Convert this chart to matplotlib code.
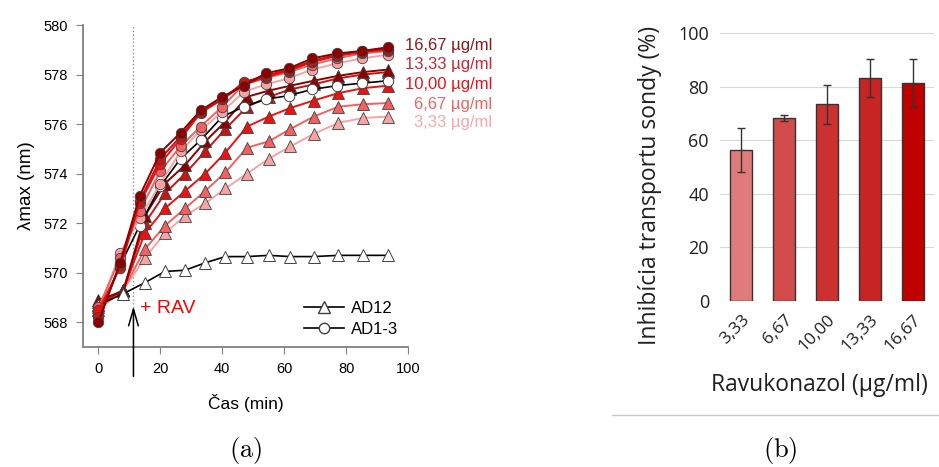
import matplotlib
matplotlib.use("Agg")
import matplotlib.pyplot as plt
from matplotlib.lines import Line2D

plt.rcParams['mathtext.fontset'] = 'cm'

# ---------------- data: panel (a) ----------------
t_circ = [0, 7, 13.3, 20, 26.5, 33, 40, 47, 54, 61.5, 69, 77, 85, 93.5]
t_tri = [0, 8, 15, 21.5, 28, 34.5, 41, 48, 55, 62, 69.5, 77.5, 85.5, 93.5]

conc_labels = ["16,67 µg/ml", "13,33 µg/ml", "10,00 µg/ml", "6,67 µg/ml", "3,33 µg/ml"]
conc_colors = ["#8b0000", "#c81414", "#ee1111", "#f26060", "#f7a3a3"]
label_colors = ["#8b1a1a", "#c8283a", "#e8141c", "#f06464", "#f7a8a8"]

circ_16 = [568.0, 570.4, 573.1, 574.85, 575.65, 576.55, 577.1, 577.55, 578.05, 578.25, 578.65, 578.85, 578.95, 579.1]
circ_13 = [568.2, 570.3, 572.9, 574.6, 575.5, 576.5, 577.0, 577.7, 577.95, 578.2, 578.55, 578.8, 578.95, 579.05]
circ_10 = [568.5, 570.2, 572.8, 574.4, 575.4, 576.45, 577.0, 577.6, 577.9, 578.15, 578.5, 578.75, 578.9, 579.0]
circ_6 = [568.6, 570.6, 572.5, 574.1, 575.1, 575.9, 576.7, 577.6, 577.85, 578.1, 578.4, 578.65, 578.85, 578.95]
circ_3 = [568.4, 570.8, 572.2, 573.6, 574.9, 575.75, 576.5, 577.3, 577.6, 577.85, 578.2, 578.45, 578.65, 578.8]
ctrl_ad13 = [568.3, 570.3, 571.9, 573.5, 574.6, 575.35, 576.3, 576.7, 577.0, 577.15, 577.4, 577.55, 577.65, 577.75]

tri_16 = [568.9, 569.25, 572.3, 573.6, 574.35, 575.3, 576.1, 577.1, 577.35, 577.55, 577.75, 577.95, 578.1, 578.2]
tri_13 = [568.7, 569.3, 572.0, 573.2, 574.0, 574.9, 575.8, 576.7, 577.1, 577.4, 577.6, 577.85, 578.0, 578.1]
tri_10 = [568.8, 569.3, 571.6, 572.6, 573.3, 574.0, 574.85, 575.9, 576.3, 576.65, 576.95, 577.25, 577.45, 577.55]
tri_6 = [568.6, 569.3, 570.95, 571.9, 572.6, 573.3, 574.05, 575.05, 575.3, 575.8, 576.3, 576.7, 576.8, 576.85]
tri_3 = [568.5, 569.3, 570.6, 571.6, 572.3, 572.8, 573.4, 574.0, 574.6, 575.1, 575.6, 576.05, 576.25, 576.3]
ctrl_ad12 = [568.7, 569.15, 569.6, 570.05, 570.1, 570.4, 570.65, 570.65, 570.7, 570.65, 570.65, 570.7, 570.7, 570.7]

circ_series = [circ_16, circ_13, circ_10, circ_6, circ_3]
tri_series = [tri_16, tri_13, tri_10, tri_6, tri_3]
rav_time = 11.3

# ---------------- data: panel (b) ----------------
bar_cats = ["3,33", "6,67", "10,00", "13,33", "16,67"]
bar_vals = [56.3, 68.3, 73.4, 83.3, 81.4]
bar_errs = [8.2, 1.0, 7.3, 7.1, 9.0]
bar_colors = ["#e07b7b", "#d24b4b", "#cd3030", "#c92424", "#c00000"]

W, H = 939, 467
fig = plt.figure(figsize=(W / 100, H / 100), dpi=100)

# ---------------- panel (a) ----------------
axa = fig.add_axes([83 / W, 1 - 347 / H, (408 - 83) / W, (347 - 25) / H])
sans = "Liberation Sans"

for i in range(4, -1, -1):
    axa.plot(t_tri, tri_series[i], '-', color=conc_colors[i], lw=1.4, marker='^', ms=8,
             mfc=conc_colors[i], mec='#404040', mew=0.6, zorder=3 + (4 - i) * 0.1)
axa.plot(t_tri, ctrl_ad12, '-', color='black', lw=1.2, marker='^', ms=8,
         mfc='white', mec='#404040', mew=0.7, zorder=3.6)
axa.plot(t_circ, ctrl_ad13, '-', color='black', lw=1.2, marker='o', ms=7.5,
         mfc='white', mec='#404040', mew=0.7, zorder=3.7)
for i in range(4, -1, -1):
    axa.plot(t_circ, circ_series[i], '-', color=conc_colors[i], lw=1.4, marker='o', ms=7.5,
             mfc=conc_colors[i], mec='#404040', mew=0.6, zorder=4 + (4 - i) * 0.1)

axa.axvline(rav_time, ymin=0.1, ymax=1.0, color='#909090', ls=':', lw=1, zorder=1)
axa.annotate("", xy=(rav_time, 568.75), xytext=(rav_time, 565.7),
             arrowprops=dict(arrowstyle='->,head_length=1.2,head_width=0.35', color='black', lw=1.1),
             annotation_clip=False)
axa.text(13.3, 568.55, "+ RAV", color='#ff0000', fontsize=14, family=sans, va='center', ha='left')

axa.set_xlim(-5, 100)
axa.set_ylim(567, 580)
axa.set_xticks([0, 20, 40, 60, 80, 100])
axa.set_yticks([568, 570, 572, 574, 576, 578, 580])
for s in ['top', 'right']:
    axa.spines[s].set_visible(False)
for s in ['left', 'bottom']:
    axa.spines[s].set_color('#808080')
    axa.spines[s].set_linewidth(1.3)
axa.tick_params(direction='out', length=5, color='#808080', labelsize=10.5, pad=6)
for lab in axa.get_xticklabels() + axa.get_yticklabels():
    lab.set_family(sans)
axa.set_xlabel("Čas (min)", family=sans, fontsize=12.5, labelpad=13)
axa.set_ylabel("λmax (nm)", family=sans, fontsize=13.5, labelpad=6)

leg_handles = [Line2D([], [], color='black', lw=1.2, marker='^', ms=8, mfc='white', mec='#404040'),
               Line2D([], [], color='black', lw=1.2, marker='o', ms=7.5, mfc='white', mec='#404040')]
axa.legend(leg_handles, ["AD12", "AD1-3"], loc='lower right', bbox_to_anchor=(1.0, 0.0),
           frameon=False, prop={'family': sans, 'size': 12}, handlelength=2.4,
           handletextpad=0.4, labelspacing=0.35, borderaxespad=0.2)

lab_x = [405, 405, 405, 414, 414]
lab_y = [45, 65, 85, 104, 123]
for i in range(5):
    fig.text(lab_x[i] / W, 1 - lab_y[i] / H, conc_labels[i], color=label_colors[i],
             family=sans, fontsize=12, va='center', ha='left')

# ---------------- panel (b) ----------------
axb = fig.add_axes([720 / W, 1 - 300.7 / H, (934 - 720) / W, (300.7 - 33.3) / H])
cal = "Open Sans"
xpos = list(range(len(bar_cats)))
axb.bar(xpos, bar_vals, width=0.51, color=bar_colors, edgecolor='#333333', linewidth=1.0, zorder=3)
axb.errorbar(xpos, bar_vals, yerr=bar_errs, fmt='none', ecolor='#333333', elinewidth=1.0,
             capsize=3, capthick=1.0, zorder=4)
axb.set_xlim(-0.5, 4.5)
axb.set_ylim(0, 100)
axb.set_yticks([0, 20, 40, 60, 80, 100])
axb.grid(axis='y', color='#d9d9d9', lw=0.8, zorder=0)
for s in axb.spines.values():
    s.set_visible(False)
axb.tick_params(length=0, labelsize=13, labelcolor='#202020', pad=8)
axb.set_xticks(xpos)
axb.set_xticklabels(bar_cats, rotation=45, ha='right', va='top', rotation_mode='anchor')
for lab in axb.get_xticklabels() + axb.get_yticklabels():
    lab.set_family(cal)
for lab in axb.get_xticklabels():
    lab.set_fontsize(12.5)
axb.set_ylabel("Inhibícia transportu sondy (%)", family=cal, fontsize=16.5, color='#202020')
axb.yaxis.set_label_coords(-0.27, 0.43)
axb.set_xlabel("Ravukonazol (µg/ml)", family=cal, fontsize=16.5, color='#202020')
axb.xaxis.set_label_coords(0.463, -0.27)

fig.add_artist(Line2D([612 / W, 1.0], [1 - 415 / H, 1 - 415 / H], color='#c8c8c8', lw=1.0))

fig.text(246 / W, 1 - 450 / H, r"$\mathrm{(a)}$", fontsize=19, ha='center', va='center')
fig.text(780 / W, 1 - 450 / H, r"$\mathrm{(b)}$", fontsize=19, ha='center', va='center')

fig.savefig("out.png", dpi=100)
